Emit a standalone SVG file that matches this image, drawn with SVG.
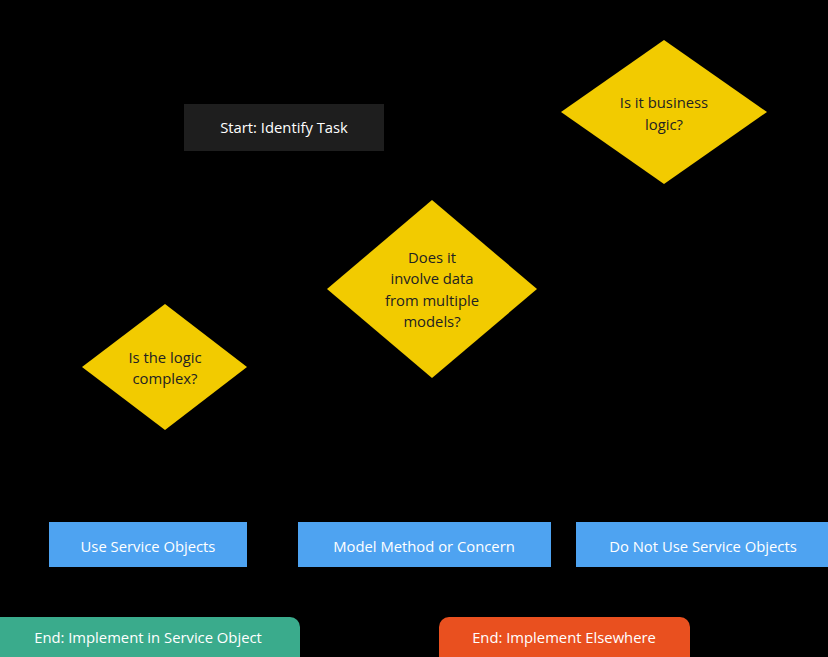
<svg xmlns="http://www.w3.org/2000/svg" width="828" height="657" viewBox="0 0 828 657">
<style>
.bg{fill:#000}
.dec{fill:#f2cb00}
.proc{fill:#4ea3f1}
.t{font-family:"Open Sans","Noto Sans",sans-serif;font-size:14.8px;text-anchor:middle;dominant-baseline:central}
.dark{fill:#222}
.light{fill:#fff}
.edge{fill:none;stroke:#000;stroke-width:2}
</style>
<defs>
<marker id="ah" viewBox="0 0 10 10" refX="9" refY="5" markerWidth="6" markerHeight="6" orient="auto">
<path d="M0,0 L10,5 L0,10 z" fill="#000"/>
</marker>
</defs>
<rect class="bg" x="0" y="0" width="828" height="657"/>
<g id="connectors">
<path class="edge" d="M284,151 C284,170 520,20 662,40" marker-end="url(#ah)"/>
<path class="edge" d="M664,184 C664,200 432,180 432,200" marker-end="url(#ah)"/>
<path class="edge" d="M664,184 L664,400 C664,480 703,480 703,521" marker-end="url(#ah)"/>
<path class="edge" d="M432,377 C432,400 164,280 164,303" marker-end="url(#ah)"/>
<path class="edge" d="M432,377 L432,470 C432,500 424,500 424,521" marker-end="url(#ah)"/>
<path class="edge" d="M148,430 L148,521" marker-end="url(#ah)"/>
<path class="edge" d="M200,410 C400,420 424,480 424,521" marker-end="url(#ah)"/>
<path class="edge" d="M148,567 L148,616" marker-end="url(#ah)"/>
<path class="edge" d="M424,567 C424,590 564,590 564,616" marker-end="url(#ah)"/>
<path class="edge" d="M703,567 C703,590 564,590 564,616" marker-end="url(#ah)"/>
</g>
<g id="start">
<rect x="184" y="104" width="200" height="47" fill="#1e1e1e"/>
<text class="t light" x="284" y="127">Start: Identify Task</text>
</g>
<g id="business">
<polygon class="dec" points="664,40 767,112 664,184 561,112"/>
<text class="t dark" x="664" y="102">Is it business</text>
<text class="t dark" x="664" y="124">logic?</text>
</g>
<g id="multiple">
<polygon class="dec" points="432,200 537,289 432,378 327,289"/>
<text class="t dark" x="432" y="257">Does it</text>
<text class="t dark" x="432" y="278">involve data</text>
<text class="t dark" x="432" y="300">from multiple</text>
<text class="t dark" x="432" y="321">models?</text>
</g>
<g id="complex">
<polygon class="dec" points="165,304 247,367 165,430 82,367"/>
<text class="t dark" x="165" y="357">Is the logic</text>
<text class="t dark" x="165" y="378">complex?</text>
</g>
<g id="useso">
<rect class="proc" x="49" y="522" width="198" height="45"/>
<text class="t light" x="148" y="546">Use Service Objects</text>
</g>
<g id="model">
<rect class="proc" x="298" y="522" width="253" height="45"/>
<text class="t light" x="424" y="546">Model Method or Concern</text>
</g>
<g id="donot">
<rect class="proc" x="576" y="522" width="254" height="45"/>
<text class="t light" x="703" y="546">Do Not Use Service Objects</text>
</g>
<g id="endso">
<rect x="-10" y="617" width="310" height="55" rx="10" fill="#3aab8c"/>
<text class="t light" x="148" y="637">End: Implement in Service Object</text>
</g>
<g id="endelse">
<rect x="439" y="617" width="251" height="55" rx="10" fill="#e9501f"/>
<text class="t light" x="564" y="637">End: Implement Elsewhere</text>
</g>
</svg>
